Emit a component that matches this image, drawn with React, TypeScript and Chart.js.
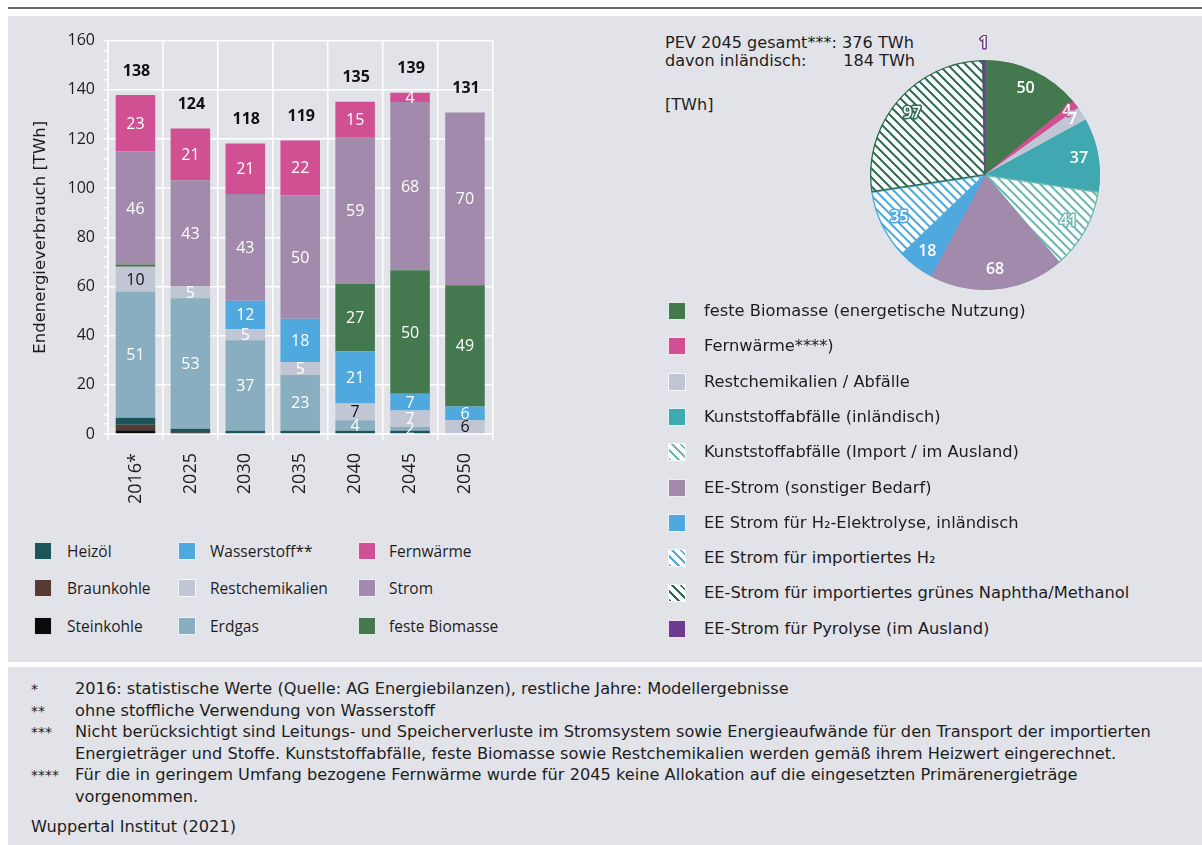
import React, { useEffect, useRef } from 'react';
import { Chart, registerables } from 'chart.js';

Chart.register(...registerables);

const FONT = '"Open Sans", "DejaVu Sans", sans-serif';
const WIDE = '"DejaVu Sans", "Open Sans", sans-serif';
const PANEL = '#e2e3e8';
const TEXT = '#1d1d1f';

// ---------- bar chart data (TWh) ----------
const years = ['2016*', '2025', '2030', '2035', '2040', '2045', '2050'];
const steinkohle = [1.5, 0.6, 0, 0, 0, 0, 0];
const braunkohle = [2.3, 0, 0, 0, 0, 0, 0];
const heizoel = [2.8, 1.5, 1.3, 1.3, 1.3, 1.3, 0];
const erdgas = [51.4, 53.1, 36.8, 22.7, 4.3, 1.6, 0];
const restchemikalien = [10.0, 4.8, 4.6, 5.3, 6.8, 6.7, 5.7];
const wasserstoff = [0, 0, 11.5, 17.6, 21.3, 6.8, 5.5];
const festeBiomasse = [0.9, 0, 0, 0, 27.4, 50.2, 49.3];
const strom = [46.0, 43.2, 43.4, 50.2, 59.4, 68.4, 70.3];
const fernwaerme = [23.0, 21.1, 20.6, 22.3, 14.6, 3.8, 0];

// ---------- pie data (PEV 2045, TWh) ----------
const pieLabels = [
  'feste Biomasse (energetische Nutzung)',
  'Fernwärme****)',
  'Restchemikalien / Abfälle',
  'Kunststoffabfälle (inländisch)',
  'Kunststoffabfälle (Import / im Ausland)',
  'EE-Strom (sonstiger Bedarf)',
  'EE Strom für H₂-Elektrolyse, inländisch',
  'EE Strom für importiertes H₂',
  'EE-Strom für importiertes grünes Naphtha/Methanol',
  'EE-Strom für Pyrolyse (im Ausland)',
];
const pieValues = [50, 4, 7, 37, 41, 68, 18, 35, 97, 1];

// ---------- styling ----------
const restLabelDark = [true, false, false, false, true, false, true];

const barSeries = [
  { label: 'Steinkohle', data: steinkohle, color: '#0b0b0b', showValue: false },
  { label: 'Braunkohle', data: braunkohle, color: '#563a33', showValue: false },
  { label: 'Heizöl', data: heizoel, color: '#1b5459', showValue: false },
  { label: 'Erdgas', data: erdgas, color: '#88aebf', showValue: true },
  { label: 'Restchemikalien', data: restchemikalien, color: '#c0c6d3', showValue: true, labelDark: restLabelDark },
  { label: 'Wasserstoff**', data: wasserstoff, color: '#4fa9df', showValue: true },
  { label: 'feste Biomasse', data: festeBiomasse, color: '#44784e', showValue: true },
  { label: 'Strom', data: strom, color: '#a18aab', showValue: true },
  { label: 'Fernwärme', data: fernwaerme, color: '#d05093', showValue: true },
];

const barLegendColumns = [
  ['Heizöl', 'Braunkohle', 'Steinkohle'],
  ['Wasserstoff**', 'Restchemikalien', 'Erdgas'],
  ['Fernwärme', 'Strom', 'feste Biomasse'],
];

const pieStyles = [
  { color: '#44784e', hatch: false },
  { color: '#d05093', hatch: false },
  { color: '#c0c6d3', hatch: false },
  { color: '#3fa8b0', hatch: false },
  { color: '#6db8b0', hatch: true },
  { color: '#a18aab', hatch: false },
  { color: '#4fa9df', hatch: false },
  { color: '#4fa9df', hatch: true },
  { color: '#2d6c52', hatch: true },
  { color: '#6e3b8e', hatch: false },
];

Chart.defaults.font.family = FONT;
Chart.defaults.color = TEXT;

function makeHatch(color: string): CanvasPattern | string {
  const s = 9;
  const c = document.createElement('canvas');
  c.width = s;
  c.height = s;
  const g = c.getContext('2d');
  if (!g) return color;
  g.fillStyle = '#ffffff';
  g.fillRect(0, 0, s, s);
  g.strokeStyle = color;
  g.lineWidth = 2;
  g.beginPath();
  for (const k of [-1, 0, 1]) {
    g.moveTo(-1, k * s - 1);
    g.lineTo(s + 1, s + k * s + 1);
  }
  g.stroke();
  return g.createPattern(c, 'repeat') || color;
}

const barLabelPlugin = {
  id: 'barLabels',
  afterDatasetsDraw(chart: any) {
    const ctx = chart.ctx;
    ctx.save();
    ctx.textAlign = 'center';
    ctx.textBaseline = 'middle';
    chart.data.datasets.forEach((ds: any, di: number) => {
      if (!ds.showValue) return;
      const meta = chart.getDatasetMeta(di);
      meta.data.forEach((el: any, i: number) => {
        const v = ds.data[i];
        if (!v || v < 1.5) return;
        const p = el.getProps(['x', 'y', 'base'], true);
        ctx.font = `400 16px ${FONT}`;
        ctx.fillStyle = ds.labelDark && ds.labelDark[i] ? '#111111' : '#ffffff';
        ctx.fillText(String(Math.round(v)), p.x, (p.y + p.base) / 2 + 1);
      });
    });
    const n = chart.data.labels.length;
    for (let i = 0; i < n; i++) {
      let total = 0;
      chart.data.datasets.forEach((ds: any) => (total += ds.data[i] || 0));
      const x = chart.getDatasetMeta(0).data[i].x;
      const y = chart.scales.y.getPixelForValue(total);
      ctx.font = `700 16px ${FONT}`;
      ctx.fillStyle = '#111111';
      ctx.fillText(String(Math.round(total)), x + 1, y - 24);
    }
    ctx.restore();
  },
};

const pieLabelPlugin = {
  id: 'pieLabels',
  afterDatasetsDraw(chart: any) {
    const ctx = chart.ctx;
    const meta = chart.getDatasetMeta(0);
    const values = chart.data.datasets[0].data;
    ctx.save();
    ctx.textAlign = 'center';
    ctx.textBaseline = 'middle';
    ctx.font = `600 16px ${FONT}`;
    ctx.lineJoin = 'round';
    meta.data.forEach((arc: any, i: number) => {
      const p = arc.getProps(['x', 'y', 'startAngle', 'endAngle', 'outerRadius'], true);
      const mid = (p.startAngle + p.endAngle) / 2;
      const v = values[i];
      const r = v < 3 ? p.outerRadius + 17 : v < 10 ? p.outerRadius * 0.9 : p.outerRadius * 0.83;
      const lx = p.x + Math.cos(mid) * r;
      const ly = p.y + Math.sin(mid) * r;
      ctx.lineWidth = 3;
      ctx.strokeStyle = pieStyles[i].color;
      ctx.strokeText(String(v), lx, ly);
      ctx.fillStyle = '#ffffff';
      ctx.fillText(String(v), lx, ly);
    });
    ctx.restore();
  },
};

function BarChart() {
  const ref = useRef<HTMLCanvasElement>(null);
  useEffect(() => {
    if (!ref.current) return;
    const chart = new Chart(ref.current, {
      type: 'bar',
      data: {
        labels: years,
        datasets: barSeries.map((s) => ({
          label: s.label,
          data: s.data,
          backgroundColor: s.color,
          borderWidth: 0,
          barPercentage: 0.72,
          categoryPercentage: 1,
          showValue: s.showValue,
          labelDark: (s as any).labelDark,
        })) as any,
      },
      options: {
        animation: false,
        responsive: false,
        events: [],
        layout: { padding: { top: 0, right: 6, left: 0, bottom: 0 } },
        plugins: { legend: { display: false }, tooltip: { enabled: false } },
        scales: {
          x: {
            stacked: true,
            offset: true,
            grid: { offset: true, color: '#ffffff', lineWidth: 1.5, tickLength: 6, tickColor: '#ffffff' },
            border: { display: true, color: '#ffffff', width: 1.5 },
            ticks: { minRotation: 90, maxRotation: 90, padding: 13, font: { size: 18 }, color: TEXT },
            afterFit: (scale: any) => {
              scale.height = 70;
            },
          },
          y: {
            stacked: true,
            min: 0,
            max: 160,
            grid: {
              color: (c: any) => (c.tick && c.tick.value % 20 === 0 ? '#ffffff' : 'rgba(0,0,0,0)'),
              lineWidth: 1.5,
              tickLength: 4,
              tickColor: '#ffffff',
            },
            border: { display: true, color: '#ffffff', width: 1.5 },
            ticks: {
              stepSize: 4,
              autoSkip: false,
              padding: 9,
              font: { size: 16 },
              color: TEXT,
              callback: (v: any) => (Number(v) % 20 === 0 ? String(v) : ''),
            },
            title: {
              display: true,
              text: 'Endenergieverbrauch [TWh]',
              font: { size: 16.5, family: WIDE },
              color: TEXT,
              padding: { top: 7, bottom: 0 },
            },
            afterFit: (scale: any) => {
              scale.width = 84;
            },
          },
        },
      } as any,
      plugins: [barLabelPlugin],
    });
    return () => chart.destroy();
  }, []);
  return <canvas ref={ref} width={476} height={482} style={{ position: 'absolute', left: 24, top: 22 }} />;
}

function PieChart() {
  const ref = useRef<HTMLCanvasElement>(null);
  useEffect(() => {
    if (!ref.current) return;
    const chart = new Chart(ref.current, {
      type: 'pie',
      data: {
        labels: pieLabels,
        datasets: [
          {
            data: pieValues,
            backgroundColor: pieStyles.map((s) => (s.hatch ? makeHatch(s.color) : s.color)) as any,
            borderColor: pieStyles.map((s) => s.color),
            borderWidth: 1,
            borderAlign: 'inner',
            hoverOffset: 0,
          },
        ],
      },
      options: {
        animation: false,
        responsive: false,
        events: [],
        radius: 115,
        layout: { padding: 0 },
        plugins: { legend: { display: false }, tooltip: { enabled: false } },
      } as any,
      plugins: [pieLabelPlugin],
    });
    return () => chart.destroy();
  }, []);
  return <canvas ref={ref} width={260} height={280} style={{ position: 'absolute', left: 855, top: 35 }} />;
}

function Swatch({ color, hatch, left, top }: { color: string; hatch?: boolean; left: number; top: number }) {
  return (
    <div
      style={{
        position: 'absolute',
        left,
        top,
        width: 18,
        height: 18,
        boxSizing: 'border-box',
        border: '1px solid rgba(255,255,255,0.85)',
        background: hatch
          ? `repeating-linear-gradient(45deg, ${color} 0px, ${color} 1.8px, #ffffff 1.8px, #ffffff 6.2px)`
          : color,
      }}
    />
  );
}

function BarLegend() {
  const colX = [34, 178, 358];
  const textX = [67, 210, 389];
  const rowY = [551, 588, 626];
  const items: React.ReactNode[] = [];
  barLegendColumns.forEach((col, ci) => {
    col.forEach((name, ri) => {
      const s = barSeries.find((b) => b.label === name)!;
      items.push(<Swatch key={name + 's'} color={s.color} left={colX[ci]} top={rowY[ri] - 9} />);
      items.push(
        <div
          key={name + 't'}
          style={{ position: 'absolute', left: textX[ci], top: rowY[ri] - 11, fontSize: 15.5, lineHeight: '22px', whiteSpace: 'nowrap' }}
        >
          {name}
        </div>
      );
    });
  });
  return <>{items}</>;
}

function PieLegend() {
  return (
    <>
      {pieLabels.map((name, i) => {
        const cy = 311 + i * 35.3;
        return (
          <React.Fragment key={name}>
            <Swatch color={pieStyles[i].color} hatch={pieStyles[i].hatch} left={668} top={cy - 9} />
            <div
              style={{
                position: 'absolute',
                left: 704,
                top: cy - 11,
                fontFamily: WIDE,
                fontSize: 16.3,
                lineHeight: '22px',
                whiteSpace: 'nowrap',
              }}
            >
              {name}
            </div>
          </React.Fragment>
        );
      })}
    </>
  );
}

const footnotes = [
  ['*', '2016: statistische Werte (Quelle: AG Energiebilanzen), restliche Jahre: Modellergebnisse'],
  ['**', 'ohne stoffliche Verwendung von Wasserstoff'],
  ['***', 'Nicht berücksichtigt sind Leitungs- und Speicherverluste im Stromsystem sowie Energieaufwände für den Transport der importierten'],
  ['', 'Energieträger und Stoffe. Kunststoffabfälle, feste Biomasse sowie Restchemikalien werden gemäß ihrem Heizwert eingerechnet.'],
  ['****', 'Für die in geringem Umfang bezogene Fernwärme wurde für 2045 keine Allokation auf die eingesetzten Primärenergieträge'],
  ['', 'vorgenommen.'],
];

function Footnotes() {
  const base = { position: 'absolute' as const, fontFamily: WIDE, fontSize: 16.2, lineHeight: '22px', whiteSpace: 'nowrap' as const };
  return (
    <>
      {footnotes.map(([mark, text], i) => {
        const cy = 689 + i * 21.6;
        return (
          <React.Fragment key={i}>
            <div style={{ ...base, left: 31, top: cy - 11, fontSize: 14 }}>{mark}</div>
            <div style={{ ...base, left: 75, top: cy - 11 }}>{text}</div>
          </React.Fragment>
        );
      })}
      <div style={{ ...base, left: 31, top: 827 - 11 }}>Wuppertal Institut (2021)</div>
    </>
  );
}

export default function App() {
  const head = { position: 'absolute' as const, fontFamily: WIDE, fontSize: 16.1, lineHeight: '18px', whiteSpace: 'pre' as const };
  return (
    <div
      style={{
        position: 'fixed',
        left: 0,
        top: 0,
        width: 1202,
        height: 845,
        overflow: 'hidden',
        background: '#ffffff',
        fontFamily: FONT,
        color: TEXT,
      }}
    >
      <div style={{ position: 'absolute', left: 8, top: 7, width: 1194, height: 2, background: '#656a72' }} />
      <div style={{ position: 'absolute', left: 8, top: 16, width: 1194, height: 646, background: PANEL }} />
      <div style={{ position: 'absolute', left: 8, top: 667, width: 1194, height: 178, background: PANEL }} />
      <BarChart />
      <BarLegend />
      <div style={{ ...head, left: 665, top: 34 }}>{'PEV 2045 gesamt***: 376 TWh'}</div>
      <div style={{ ...head, left: 665, top: 52 }}>{'davon inländisch:'}</div>
      <div style={{ ...head, left: 835, top: 52, width: 80, textAlign: 'right' }}>{'184 TWh'}</div>
      <div style={{ ...head, left: 665, top: 95, lineHeight: '20px' }}>[TWh]</div>
      <PieChart />
      <PieLegend />
      <Footnotes />
    </div>
  );
}
